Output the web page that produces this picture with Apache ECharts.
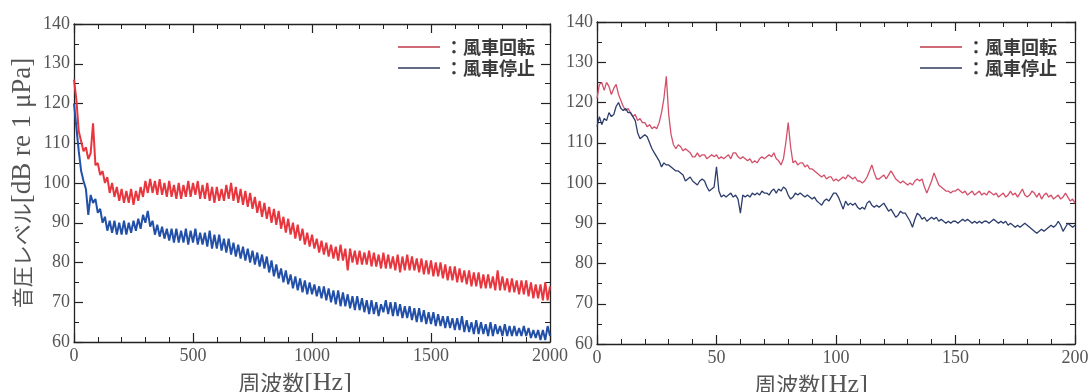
<!DOCTYPE html>
<html>
<head>
<meta charset="utf-8">
<script src="https://cdn.jsdelivr.net/npm/echarts@6/dist/echarts.min.js"></script>
<style>
  html, body { margin: 0; padding: 0; background: #fff; }
  #chart { width: 1088px; height: 392px; }
</style>
</head>
<body>
<div id="chart"></div>
<script>
// spectrum sampling steps (Hz)
const leftStep = 10;
const rightStep = 1;

const seriesNames = ['風車回転', '風車停止'];

// left panel: 0 - 2000 Hz, every 10 Hz
const leftRotating = [
  126, 121, 113, 110.5, 108, 109, 106, 107.5, 115, 104.5,
  105, 102, 103, 100, 101.5, 97.5, 100, 96.5, 99, 95.5,
  98.5, 95, 98, 95, 98.5, 94.5, 98, 95.5, 99, 96.5,
  100.5, 97.5, 101, 97.5, 100.5, 97, 101, 97, 100, 96.5,
  100.5, 96.5, 99.5, 96, 100, 96, 99.5, 96.5, 100.5, 96.5,
  100, 97, 100.5, 96, 99.5, 96, 100, 95.5, 99, 95,
  99, 95.5, 98.5, 95.5, 99.5, 96, 100, 95.5, 99, 95,
  98.5, 94.5, 98, 94, 97.5, 93.5, 96.5, 92.5, 95.5, 91.5,
  95, 91, 94, 90, 93.5, 89.5, 93, 88.5, 91.5, 87.5,
  91, 87, 90, 86, 89.5, 85.5, 88.5, 84.5, 87.5, 84,
  87, 83.5, 86, 82.5, 85.5, 82, 85, 81.5, 84.5, 81,
  84, 80.5, 84.5, 80.5, 83.5, 78, 83.5, 80, 83, 79.5,
  83, 79.5, 82.5, 79.5, 83, 79, 82.5, 79, 82, 78.5,
  82.5, 78.5, 82, 78.5, 81.5, 78, 82, 77.5, 81.5, 78,
  82, 78, 81.5, 78, 81, 77.5, 81, 77, 80.5, 77,
  80.5, 76.5, 80, 76.5, 80, 76, 79.5, 75.5, 79, 75.5,
  79, 75, 78.5, 75, 78, 74.5, 78, 74, 77.5, 74,
  77.5, 73.5, 77, 73.5, 77, 73.5, 76.5, 73, 78, 73,
  76.5, 73, 76, 72.5, 76, 72.5, 75.5, 72, 75.5, 72,
  75.5, 71.5, 75, 71, 74.5, 71, 74.5, 70.5, 75, 70.5, 74
];
const leftStopped = [
  120, 114, 108, 103, 100.5, 98.5, 92, 97, 95, 96,
  92.5, 93.5, 90, 91.5, 88, 90.5, 87.5, 90.5, 87, 90,
  87, 90.5, 87, 90, 87.5, 90.5, 88, 91, 88.5, 92,
  90, 93, 89, 90.5, 87, 89.5, 86.5, 89, 86, 88.5,
  85.5, 88.5, 85, 88.5, 85, 88, 85, 88.5, 84.5, 88,
  85, 88.5, 84.5, 87.5, 84.5, 87.5, 84, 88, 83.5, 87,
  83.5, 87, 83, 86, 82.5, 86, 82, 85, 81.5, 84.5,
  81, 84, 80.5, 83.5, 80, 83, 79.5, 82.5, 79, 82,
  78.5, 81.5, 77.5, 80.5, 76.5, 79.5, 76, 78.5, 75, 78,
  74.5, 77, 73.5, 76.5, 73, 76, 72.5, 75.5, 72, 75,
  72, 74.5, 71.5, 74, 71, 74, 70.5, 73.5, 70, 73,
  69.5, 73, 69, 72.5, 69, 72, 68.5, 71.5, 68, 71.5,
  68, 71, 67.5, 70.5, 67, 70.5, 67, 70, 66.5, 69.5,
  67.5, 70.5, 67, 70, 66.5, 70, 66.5, 69.5, 66, 69,
  66, 69, 65.5, 68.5, 65, 68.5, 65, 68, 64.5, 67.5,
  64.5, 67.5, 64, 67, 64, 66.5, 63.5, 66.5, 63.5, 66,
  63, 66, 63, 66.5, 62.5, 65.5, 62.5, 65, 62, 65.5,
  62, 65, 62, 64.5, 61.5, 65, 61.5, 64.5, 62, 64,
  61.5, 64.5, 61.5, 64, 61.5, 64, 61.5, 63.5, 61.5, 64,
  61.5, 63.5, 61, 63, 61, 63, 60.5, 63, 60.5, 64, 61.5
];

// right panel: 0 - 200 Hz, every 1 Hz
const rightRotating = [
  121, 124.5, 125, 123, 125, 124, 122, 123.5, 124.5, 122,
  120.5, 119, 118, 118.5, 117.5, 116.5, 117, 115.5, 116, 115,
  115, 114, 114.5, 113.5, 114, 113.5, 115, 117.5, 121, 126.5,
  117, 112, 109.5, 108.5, 109.5, 109, 108, 108.5, 108, 107.5,
  106.5, 106.5, 107.5, 106.5, 107, 107, 106, 106.5, 107, 106.5,
  107, 106, 106.5, 106, 106.5, 107, 106, 107.5, 107.5, 106.5,
  106, 106.5, 106, 105.5, 106, 105, 105.5, 105, 106, 106.5,
  106, 106.5, 107, 106.5, 107.5, 106, 105.5, 104.5, 106, 110,
  115, 109, 105, 105.5, 104.5, 105, 105, 104, 104.5, 103.5,
  103.5, 103, 102.5, 102, 101.5, 102, 101, 101.5, 101.5, 100.5,
  101, 100.5, 101, 101.5, 101, 102, 101.5, 101, 101.5, 100.5,
  100.5, 100, 100.5, 101.5, 103, 104.5, 102.5, 101, 101, 101.5,
  102, 101, 102, 103, 102, 101, 100.5, 100, 100.5, 100,
  99.5, 100, 99.5, 100.5, 101, 100.5, 101, 99, 97.5, 99,
  100.5, 102.5, 101, 99.5, 99, 98.5, 98, 98, 97.5, 98,
  98, 98.5, 98, 97.5, 98, 97, 97.5, 98, 97, 97.5,
  98, 97, 97.5, 97, 98, 97.5, 97, 97.5, 96.5, 97,
  97.5, 96.5, 97, 98, 97, 97.5, 96.5, 97.5, 98.5, 97,
  96.5, 97, 98, 97.5, 96.5, 97.5, 96, 97, 97.5, 96.5,
  97, 96, 96.5, 97, 96, 96.5, 97.5, 96.5, 95.5, 96, 95
];
const rightStopped = [
  114, 116.5, 114.5, 116, 115.5, 117.5, 116.5, 117, 119, 120,
  118.5, 118, 118.5, 117.5, 117.5, 116.5, 115.5, 112.5, 111, 111.5,
  112, 111.5, 110, 108.5, 107.5, 106.5, 105.5, 104, 105, 104.5,
  104.5, 104, 103.5, 103, 103, 102.5, 102, 100.5, 101, 101.5,
  100.5, 100, 99.5, 100.5, 101, 100.5, 99, 98, 98.5, 99,
  104, 98, 96.5, 97, 96.5, 97, 97.5, 96.5, 97, 96,
  92.5, 97, 96.5, 97, 96.5, 97.5, 97, 97.5, 97, 98,
  97.5, 97.5, 97, 98, 98.5, 97.5, 98.5, 98, 99, 98.5,
  97, 96, 96.5, 97.5, 97, 97.5, 97, 96.5, 97, 96.5,
  96, 96.5, 95.5, 95, 94.5, 95.5, 96, 95.5, 96.5, 97.5,
  97.5, 96.5, 95, 93.5, 95.5, 94.5, 95, 94.5, 95, 94,
  93.5, 94, 93.5, 95, 95.5, 94.5, 94, 94.5, 94, 94.5,
  95, 94, 93, 93.5, 92.5, 91.5, 92, 93, 92.5, 92.5,
  91.5, 90.5, 89, 91, 92.5, 92, 91, 91.5, 90.5, 91,
  91.5, 91, 91.5, 90.5, 91, 90.5, 90, 90.5, 90, 90.5,
  90.5, 90, 90.5, 91, 90.5, 91, 90.5, 90, 90.5, 90,
  90.5, 90, 90.5, 90.5, 90, 90.5, 91, 90.5, 90, 90.5,
  90, 90.5, 89.5, 90, 89.5, 89, 89.5, 89, 89.5, 90,
  89.5, 89, 88.5, 88, 87.5, 88, 88.5, 88, 88.5, 89,
  89.5, 89, 89.5, 90.5, 89.5, 88, 89, 90, 89.5, 89, 89.5
];

const serif = "'Liberation Serif', 'Noto Sans CJK JP', serif";
const axisColor = '#222';
const labelColor = '#555';

const toPairs = (vals, step) => vals.map((v, i) => [i * step, v]);

// mixed-size axis titles: CJK part smaller than the latin part
const titleRich = (cjkSize, latinSize) => ({
  j: { fontFamily: "'Noto Sans CJK JP'", fontSize: cjkSize, color: labelColor },
  l: { fontFamily: "'Liberation Serif'", fontSize: latinSize, color: labelColor }
});

function xAxisFor(grid, max, interval, position, shift) {
  const bottom = position === 'bottom';
  const axis = {
    type: 'value', gridIndex: grid, position: position,
    min: 0, max: max, interval: interval,
    axisLine: { show: true, onZero: false, lineStyle: { color: axisColor, width: 1.3 } },
    axisTick: { show: true, inside: true, length: 9, lineStyle: { color: axisColor, width: 1.2 } },
    minorTick: { show: true, splitNumber: 5, length: 5, lineStyle: { color: axisColor, width: 1 } },
    splitLine: { show: false },
    axisLabel: { show: bottom, fontFamily: serif, fontSize: 18, color: labelColor, margin: 5, formatter: v => String(v) }
  };
  if (bottom) {
    axis.name = '{j|周波数}{l|[Hz]}';
    axis.nameLocation = 'middle';
    axis.nameGap = 9;
    axis.nameTextStyle = { padding: [0, shift, 0, 0], rich: titleRich(22, 26) };
  }
  return axis;
}

function yAxisFor(grid, position, name) {
  const left = position === 'left';
  const axis = {
    type: 'value', gridIndex: grid, position: position,
    min: 60, max: 140, interval: 10,
    axisLine: { show: true, onZero: false, lineStyle: { color: axisColor, width: 1.3 } },
    axisTick: { show: true, inside: true, length: 9, lineStyle: { color: axisColor, width: 1.2 } },
    minorTick: { show: true, splitNumber: 2, length: 5, lineStyle: { color: axisColor, width: 1 } },
    splitLine: { show: false },
    axisLabel: { show: left, fontFamily: serif, fontSize: 18, color: labelColor, margin: 4 }
  };
  if (name) {
    axis.name = name;
    axis.nameLocation = 'middle';
    axis.nameRotate = 90;
    axis.nameGap = 38;
    axis.nameTextStyle = { rich: titleRich(21, 27) };
  }
  return axis;
}

function legendAt(left) {
  return {
    left: left, top: 38, orient: 'vertical', padding: 0,
    icon: 'rect', itemWidth: 42, itemHeight: 1.5, itemGap: 3,
    selectedMode: false,
    formatter: '：{name}',
    textStyle: { fontFamily: "'Noto Sans CJK JP'", fontSize: 18, fontWeight: 'bold', color: '#3a3a3a', lineHeight: 18 },
    data: [
      { name: seriesNames[0], itemStyle: { color: '#c0394a' } },
      { name: seriesNames[1], itemStyle: { color: '#2c3a5c' } }
    ]
  };
}

function lineSeries(name, data, axis, color, width) {
  return {
    name: name, type: 'line', data: data,
    xAxisIndex: axis, yAxisIndex: axis,
    showSymbol: false, symbol: 'none', clip: true,
    lineStyle: { color: color, width: width },
    itemStyle: { color: color },
    animation: false
  };
}

const chart = echarts.init(document.getElementById('chart'));
chart.setOption({
  animation: false,
  grid: [
    { left: 74, top: 24, width: 476, height: 318, outerBoundsMode: 'none' },
    { left: 597, top: 22, width: 478, height: 322, outerBoundsMode: 'none' }
  ],
  legend: [legendAt(398), legendAt(920)],
  xAxis: [
    xAxisFor(0, 2000, 500, 'bottom', 34),
    xAxisFor(0, 2000, 500, 'top'),
    xAxisFor(1, 200, 50, 'bottom', 50),
    xAxisFor(1, 200, 50, 'top')
  ],
  yAxis: [
    yAxisFor(0, 'left', '{j|音圧レベル}{l|[dB re 1 μPa]}'),
    yAxisFor(0, 'right'),
    yAxisFor(1, 'left'),
    yAxisFor(1, 'right')
  ],
  series: [
    lineSeries(seriesNames[0], toPairs(leftRotating, leftStep), 0, '#e8363e', 2),
    lineSeries(seriesNames[1], toPairs(leftStopped, leftStep), 0, '#2250a8', 2),
    lineSeries(seriesNames[0], toPairs(rightRotating, rightStep), 2, '#d4506a', 1.3),
    lineSeries(seriesNames[1], toPairs(rightStopped, rightStep), 2, '#2d3e6c', 1.3)
  ]
});

window.addEventListener('resize', function () {
  chart.resize();
});
</script>
</body>
</html>
